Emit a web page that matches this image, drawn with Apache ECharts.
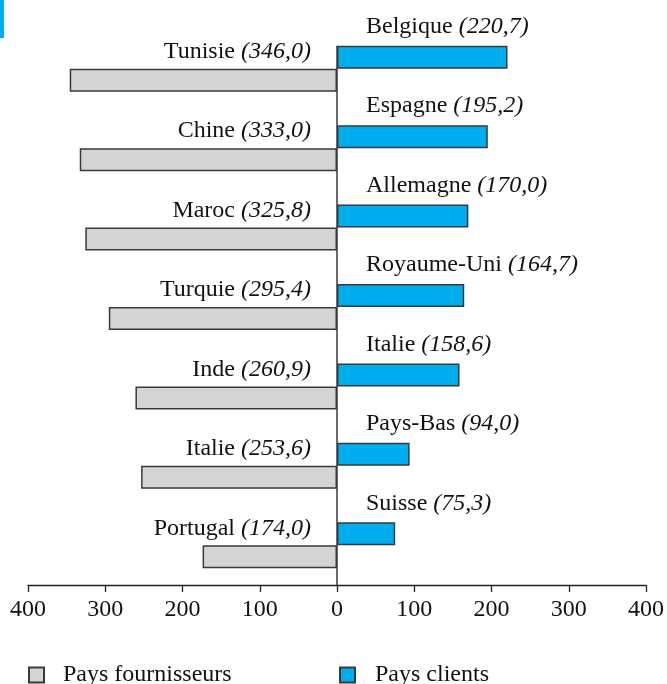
<!DOCTYPE html>
<html>
<head>
<meta charset="utf-8">
<script src="https://cdn.jsdelivr.net/npm/echarts@6/dist/echarts.min.js"></script>
<style>
  html, body { margin: 0; padding: 0; background: #fff; }
  #chart { width: 667px; height: 684px; }
</style>
</head>
<body>
<div id="chart"></div>
<script>
// rangs (une ligne = un fournisseur + un client)
const rows = ['1', '2', '3', '4', '5', '6', '7'];
// pays fournisseurs
const supplierNames = ['Tunisie', 'Chine', 'Maroc', 'Turquie', 'Inde', 'Italie', 'Portugal'];
const supplierValues = [346.0, 333.0, 325.8, 295.4, 260.9, 253.6, 174.0];
// pays clients
const clientNames = ['Belgique', 'Espagne', 'Allemagne', 'Royaume-Uni', 'Italie', 'Pays-Bas', 'Suisse'];
const clientValues = [220.7, 195.2, 170.0, 164.7, 158.6, 94.0, 75.3];
// graduations
const axisMin = -400, axisMax = 400, axisStep = 100;

const FONT = "'Liberation Serif', 'Times New Roman', serif";
const BLUE = '#00AEEF';
const GREY = '#D3D4D6';
const EDGE = '#3a3a3a';
const BAR_W = 23;

const fmt = v => Math.abs(v).toFixed(1).replace('.', ',');
const rich = {
  n: { fontFamily: FONT, fontSize: 24, color: '#111' },
  v: { fontFamily: FONT, fontSize: 24, color: '#111', fontStyle: 'italic' }
};

const chart = echarts.init(document.getElementById('chart'));

const option = {
  animation: false,
  backgroundColor: '#fff',
  grid: { left: 28, right: 19, top: 29, bottom: 99 },
  legend: [
    {
      data: ['Pays fournisseurs'],
      left: 28, top: 663, padding: 0,
      itemWidth: 15, itemHeight: 15,
      icon: 'rect',
      textStyle: { fontFamily: FONT, fontSize: 24, lineHeight: 24, color: '#111', padding: [0, 0, 0, 14] }
    },
    {
      data: ['Pays clients'],
      left: 339, top: 663, padding: 0,
      itemWidth: 15, itemHeight: 15,
      icon: 'rect',
      textStyle: { fontFamily: FONT, fontSize: 24, lineHeight: 24, color: '#111', padding: [0, 0, 0, 15] }
    }
  ],
  xAxis: {
    type: 'value',
    min: axisMin, max: axisMax, interval: axisStep,
    splitLine: { show: false },
    axisLine: { show: true, onZero: false, lineStyle: { color: '#222', width: 1.3 } },
    axisTick: { show: true, length: 7, lineStyle: { color: '#222', width: 1.3 } },
    axisLabel: {
      formatter: v => String(Math.abs(v)),
      fontFamily: FONT, fontSize: 24, color: '#111', margin: 13
    }
  },
  yAxis: {
    type: 'category',
    data: rows,
    inverse: true,
    show: false
  },
  series: [
    {
      name: 'Pays clients',
      type: 'bar',
      data: clientValues,
      barWidth: BAR_W,
      barGap: '0%',
      itemStyle: { color: BLUE, borderColor: EDGE, borderWidth: 1.5 },
      label: {
        show: true,
        position: [29, -19],
        align: 'left',
        verticalAlign: 'middle',
        formatter: p => '{n|' + clientNames[p.dataIndex] + ' }{v|(' + fmt(p.value) + ')}',
        rich: rich
      }
    },
    {
      name: 'Pays fournisseurs',
      type: 'bar',
      data: supplierValues.map(v => -v),
      barWidth: BAR_W,
      barGap: '0%',
      itemStyle: { color: GREY, borderColor: EDGE, borderWidth: 1.5 },
      label: {
        show: true,
        position: ['100%', -17],
        align: 'right',
        verticalAlign: 'middle',
        offset: [-26, 0],
        formatter: p => '{n|' + supplierNames[p.dataIndex] + ' }{v|(' + fmt(p.value) + ')}',
        rich: rich
      }
    }
  ]
};

chart.setOption(option);

// ligne du zéro : du haut de la première barre jusqu'à l'axe
const x0 = chart.convertToPixel({ xAxisIndex: 0 }, 0);
const yFirst = chart.convertToPixel({ yAxisIndex: 0 }, rows[0]) - BAR_W;
const yAxisPx = 684 - option.grid.bottom;

chart.setOption({
  graphic: [
    {
      type: 'line',
      shape: { x1: x0, y1: yFirst, x2: x0, y2: yAxisPx },
      style: { stroke: EDGE, lineWidth: 1.5 },
      z: 10
    },
    {
      type: 'rect',
      shape: { x: 0, y: 0, width: 4, height: 38 },
      style: { fill: BLUE }
    }
  ]
});
</script>
</body>
</html>
